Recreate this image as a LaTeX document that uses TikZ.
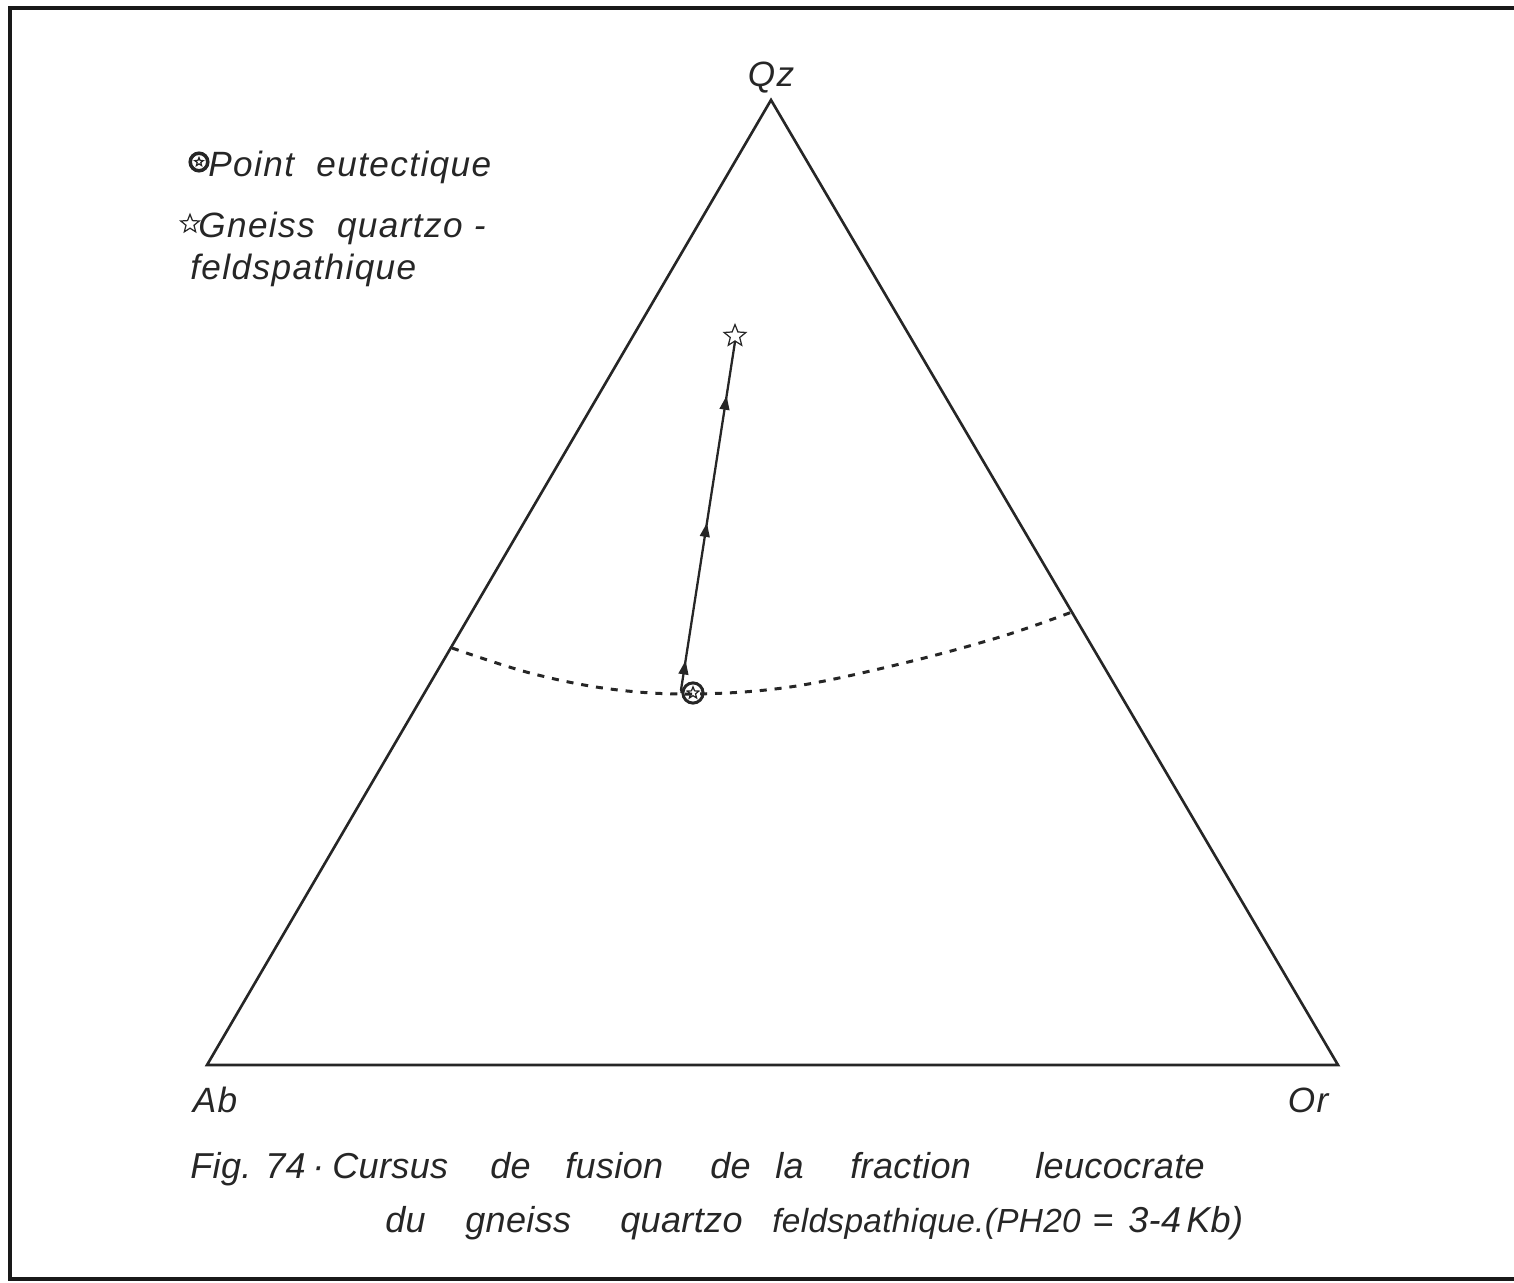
\documentclass[tikz,border=0pt]{standalone}
\usepackage{fontspec}
\setmainfont{Liberation Sans}
\newfontfamily\lfont[LetterSpace=4]{Liberation Sans}
\newfontfamily\cfont[LetterSpace=1]{Liberation Sans}
\usetikzlibrary{shapes.geometric,decorations.markings,arrows.meta}
\begin{document}
\begin{tikzpicture}[x=0.02cm,y=-0.02cm,
  ink/.style={draw=black!85,line width=1.5pt},
  framestyle/.style={draw=black!90,line width=2.6pt},
  lbl/.style={font=\lfont\itshape\fontsize{20}{24}\selectfont,text=black!85,inner sep=0pt,anchor=base},
  captext/.style={font=\cfont\itshape\fontsize{20.5}{25}\selectfont,text=black!85,inner sep=0pt,anchor=base west},
  starsym/.style={star,star points=5,star point ratio=2.3,draw=black!85,line width=0.7pt,minimum size=13pt,inner sep=0pt},
  eutsym/.style={circle,draw=black!85,line width=1.7pt,minimum size=11.5pt,inner sep=0pt},
  flow/.style={ink,line width=1.3pt,postaction={decorate},decoration={markings,
     mark=at position 0.085 with {\arrow{Triangle[length=8pt,width=5.5pt]}},
     mark=at position 0.48 with {\arrow{Triangle[length=8pt,width=5.5pt]}},
     mark=at position 0.845 with {\arrow{Triangle[length=8pt,width=5.5pt]}}}},
  boundary/.style={draw=black!85,line width=1.7pt,dash pattern=on 4pt off 4.5pt}
]
\useasboundingbox (0,0) rectangle (1514,1283);
% frame (top, left, bottom)
\draw[framestyle] (1514,8) -- (10,8) -- (10,1279) -- (1514,1279);
% triangle
\coordinate (Ab) at (207,1065);
\coordinate (Or) at (1338,1065);
\coordinate (Qz) at (771,100);
\draw[ink,line join=miter] (Ab) -- (Or) -- (Qz) -- cycle;
\node[lbl] (qzl) at (771,87) {Qz};
\node[lbl] (abl) at (215,1112) {Ab};
\node[lbl] (orl) at (1308,1112) {Or};
% cotectic boundary
\coordinate (bl) at (452,648);
\coordinate (br) at (1072,612);
\draw[boundary] plot[smooth,tension=0.6] coordinates {(452,648) (530,673) (610,689) (693,694) (790,687) (900,664) (1000,637) (1072,612)};
% eutectic point and gneiss star
\node[eutsym] (eut) at (693,693) {};
\node[starsym,minimum size=7pt] (eutin) at (693,693) {};
\node[starsym] (gn) at (735,336) {};
\coordinate (st) at (681,690);
\draw[ink,line width=1pt] (eut.west) -- (st);
\draw[flow] (st) -- (gn.south);
% legend
\node[eutsym,minimum size=10pt,line width=2pt] (leut) at (199,162) {};
\node[starsym,minimum size=5pt] (leutin) at (199,162) {};
\node[lbl,anchor=base west] (lt1) at (208,177) {Point\ \ eutectique};
\node[starsym,minimum size=11pt] (lstar) at (190,224) {};
\node[lbl,anchor=base west] (lt2) at (198,238) {Gneiss\ \ quartzo -};
\node[lbl,anchor=base west] (lt3) at (190,280) {feldspathique};
% caption line 1
\node[captext] (c1) at (190,1178) {Fig. 74};
\node[captext] (c1b) at (312,1178) {·};
\node[captext] (c2) at (332,1178) {Cursus};
\node[captext] (c3) at (490,1178) {de};
\node[captext] (c4) at (565,1178) {fusion};
\node[captext] (c5) at (710,1178) {de};
\node[captext] (c6) at (775,1178) {la};
\node[captext] (c7) at (850,1178) {fraction};
\node[captext] (c8) at (1035,1178) {leucocrate};
% caption line 2
\node[captext] (d1) at (385,1232) {du};
\node[captext] (d2) at (465,1232) {gneiss};
\node[captext] (d3) at (620,1232) {quartzo};
\node[captext,font=\cfont\itshape\fontsize{19}{24}\selectfont] (d4) at (772,1232) {feldspathique.(PH20};
\node[captext] (d5) at (1092,1232) {=};
\node[captext] (d6) at (1128,1232) {3-4};
\node[captext] (d7) at (1186,1232) {Kb)};
\end{tikzpicture}
\end{document}
